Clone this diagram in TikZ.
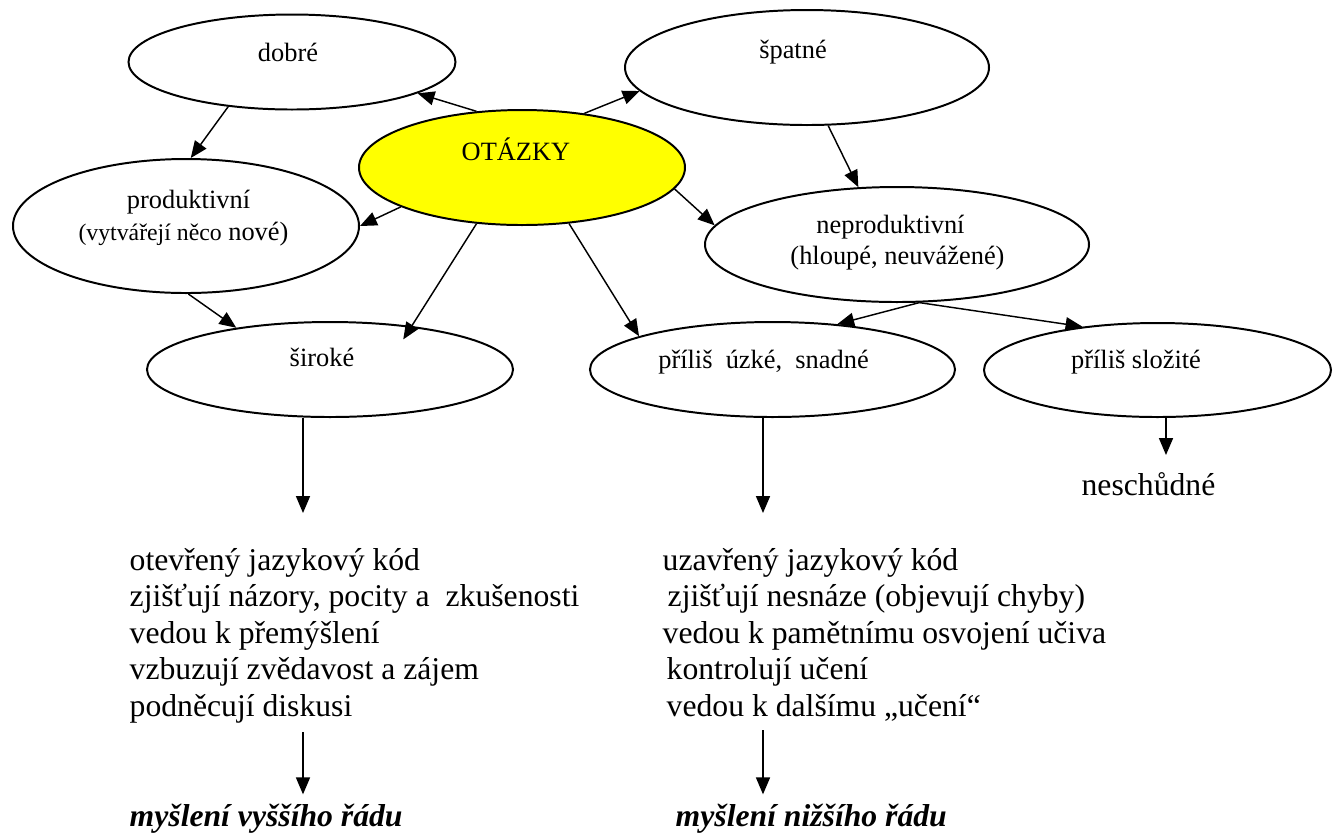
\documentclass[tikz,border=0pt]{standalone}
\usepackage{fontspec}
\setmainfont{Liberation Serif}
\usetikzlibrary{shapes.geometric,arrows.meta}
\definecolor{otazkyfill}{RGB}{255,255,0}
\newdimen\px \px=0.3788pt

\begin{document}
\begin{tikzpicture}[
        x=0.3788pt, y=-0.3788pt,
        bubble/.style={ellipse,draw,line width=0.75pt,inner sep=0pt},
        lbl/.style={anchor=base,inner sep=0pt,font=\fontsize{10}{12}\selectfont},
        listline/.style={anchor=base west,font=\fontsize{12}{14}\selectfont},
        arr/.style={line width=0.55pt,-{Triangle[length=6.4pt,width=5.3pt]}}
    ]
        \useasboundingbox (0,0) rectangle (1339,835);

        % Ellipses
        \node[bubble,fill=otazkyfill,minimum width=326\px,minimum height=115\px] (otazky) at (522,167.5) {};
        \node[bubble,minimum width=327\px,minimum height=95\px] (dobre) at (292,62) {};
        \node[bubble,minimum width=364\px,minimum height=115\px] (spatne) at (807,67.5) {};
        \node[bubble,minimum width=346\px,minimum height=134\px] (produktivni) at (186,226) {};
        \node[bubble,minimum width=384\px,minimum height=115\px] (neprod) at (897,244.5) {};
        \node[bubble,minimum width=366\px,minimum height=95\px] (siroke) at (330,369.5) {};
        \node[bubble,minimum width=365\px,minimum height=95\px] (uzke) at (772.5,369.5) {};
        \node[bubble,minimum width=347\px,minimum height=94\px] (slozite) at (1157.5,370) {};

        % Ellipse texts
        \node[lbl] (otazky-t) at (516,160) {OTÁZKY};
        \node[lbl] (dobre-t) at (288,61) {dobré};
        \node[lbl] (spatne-t) at (793,58) {špatné};
        \node[lbl] (produktivni-t) at (188.5,208) {produktivní};
        \node[lbl] (produktivni-t2) at (183.5,240) {{\fontsize{9}{11}\selectfont(vytvářejí něco} nové)};
        \node[lbl] (neprod-t) at (890.5,233) {neproduktivní};
        \node[lbl] (neprod-t2) at (897.5,264) {(hloupé, neuvážené)};
        \node[lbl] (siroke-t) at (322,366) {široké};
        \node[lbl] (uzke-t) at (763.5,368) {příliš\ \ úzké,\ \ snadné};
        \node[lbl] (slozite-t) at (1136,368) {příliš složité};

        % Arrows between ellipses
        \draw[arr] (otazky.129) -- (dobre.-14);
        \draw[arr] (otazky.41) -- (spatne.188);
        \draw[arr] (dobre.-145) -- (produktivni.86);
        \draw[arr] (otazky.198) -- (produktivni.0);
        \draw[arr] (produktivni.-88) -- (siroke.156);
        \draw[arr,shorten >=-6pt] (otazky.-129) -- (siroke.28);
        \draw[arr] (otazky.-50) -- (uzke.166);
        \draw[arr] (spatne.-70) -- (neprod.124);
        \draw[arr] (otazky.-8) -- (neprod.174);
        \draw[arr] (neprod.-69) -- (uzke.35);
        \draw[arr] (neprod.-69) -- (slozite.150);

        % Lists
        \foreach \t [count=\i] in {otevřený jazykový kód, {zjišťují názory, pocity a\ \ zkušenosti}, vedou k přemýšlení, vzbuzují zvědavost a zájem, podněcují diskusi}
            \node[listline] (left\i) at (120.4,{570+36.5*(\i-1)}) {\t};
        \foreach \x/\t [count=\i] in {653.4/uzavřený jazykový kód, 658.4/{zjišťují nesnáze (objevují chyby)}, 653.4/vedou k pamětnímu osvojení učiva, 657.4/kontrolují učení, 657.4/vedou k dalšímu „učení“}
            \node[listline] (right\i) at (\x,{570+36.5*(\i-1)}) {\t};

        \node[listline,anchor=base] (neschudne) at (1148.5,495) {neschůdné};
        \node[listline,font=\fontsize{12}{14}\selectfont\bfseries\itshape] (vyssi) at (120.4,826) {myšlení vyššího řádu};
        \node[listline,font=\fontsize{12}{14}\selectfont\bfseries\itshape] (nizsi) at (666.4,826) {myšlení nižšího řádu};

        % Downward arrows
        \coordinate (downL) at (303,513);
        \coordinate (downR) at (763,513);
        \coordinate (downS) at (1166,455);
        \draw[arr] (siroke.south -| downL) -- (downL);
        \draw[arr] (uzke.south -| downR) -- (downR);
        \draw[arr] (slozite.south -| downS) -- (downS);
        \draw[arr] (left5.south -| downL) -- (vyssi.north -| downL);
        \draw[arr] (right5.south -| downR) -- (nizsi.north -| downR);
    \end{tikzpicture}
\end{document}
